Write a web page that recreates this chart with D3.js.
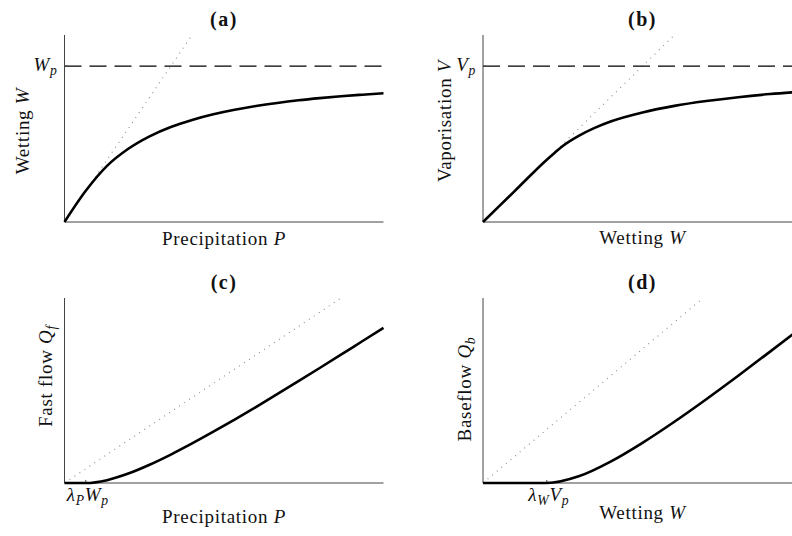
<!DOCTYPE html>
<html>
  <head>
    <meta charset="utf-8">
    <style>
      body {
        margin: 0;
        background: #fff;
      }
      text {
        font-family: "Liberation Serif", "Times New Roman", serif;
        fill: #111;
        letter-spacing: 0.7px;
      }
      .axis-line {
        stroke: #444;
        stroke-width: 1px;
        fill: none;
      }
      .curve {
        stroke: #000;
        stroke-width: 2.6px;
        fill: none;
      }
      .ref {
        stroke: #8a8a8a;
        stroke-width: 1.1px;
        stroke-dasharray: 1 5;
        fill: none;
      }
      .limit {
        stroke: #000;
        stroke-width: 1.1px;
        stroke-dasharray: 17 8;
        fill: none;
      }
    </style>
  </head>
  <body>
    <script src="https://d3js.org/d3.v7.min.js"></script>
    <script>
      // values, in units of Wp (or Vp)
      var precipA = [0, 0.2, 0.4, 0.6, 0.8, 1.0, 1.2, 1.4, 1.6, 1.8, 2.0, 2.2, 2.4, 2.6, 2.8, 3.0];
      var wettingA = [0, 0.2, 0.36, 0.47, 0.55, 0.61, 0.655, 0.691, 0.72, 0.744, 0.764, 0.781, 0.795, 0.807, 0.817, 0.826];

      var wettingB = [0, 0.2, 0.4, 0.45, 0.5, 0.6, 0.7, 0.8, 1.0, 1.2, 1.4, 1.6, 1.8, 2.0];
      var vaporB = [0, 0.2, 0.4, 0.445, 0.488, 0.553, 0.604, 0.645, 0.703, 0.745, 0.776, 0.801, 0.821, 0.836];

      var precipC = [0, 0.2, 0.4, 0.6, 0.8, 1.0, 1.2, 1.4, 1.6, 1.8, 2.0, 2.2, 2.4, 2.6, 2.8, 3.0];
      var fastC = [0, 0, 0.04, 0.133, 0.257, 0.40, 0.556, 0.721, 0.892, 1.068, 1.248, 1.431, 1.616, 1.803, 1.992, 2.18];

      var wettingD = [0, 0.4, 0.6, 0.8, 1.0, 1.2, 1.4, 1.6, 1.8, 2.0];
      var baseD = [0, 0, 0.05, 0.16, 0.30, 0.457, 0.625, 0.80, 0.98, 1.163];

      var titles = ["(a)", "(b)", "(c)", "(d)"];
      var limitLevel = 1;          // Wp / Vp
      var lambdaP = 0.2, lambdaW = 0.4;

      var width = 792, height = 536;

      var svg = d3.select("body").append("svg")
          .attr("width", width)
          .attr("height", height);

      var panels = [
        { title: titles[0], xs: precipA, ys: wettingA, left: 64.5, right: 383.5, top: 35, bottom: 222,
          xMax: 3, yMax: 1.2, limit: [{t: "W", i: 1}, {t: "p", i: 1, sub: 1}],
          xlabel: [{t: "Precipitation "}, {t: "P", i: 1}], ylabel: [{t: "Wetting "}, {t: "W", i: 1}],
          ylabelX: 29, ylabelY: 131, xlabelY: 245 },
        { title: titles[1], xs: wettingB, ys: vaporB, left: 483, right: 802, top: 35, bottom: 222,
          xMax: 2, yMax: 1.2, limit: [{t: "V", i: 1}, {t: "p", i: 1, sub: 1}],
          xlabel: [{t: "Wetting "}, {t: "W", i: 1}], ylabel: [{t: "Vaporisation "}, {t: "V", i: 1}],
          ylabelX: 451, ylabelY: 121, xlabelY: 244 },
        { title: titles[2], xs: precipC, ys: fastC, left: 64.5, right: 383.5, top: 298, bottom: 483,
          xMax: 3, yMax: 2.6, lambda: lambdaP,
          tick: [{t: "λ", i: 1}, {t: "P", i: 1, sub: 1}, {t: "W", i: 1}, {t: "p", i: 1, sub: 1}],
          xlabel: [{t: "Precipitation "}, {t: "P", i: 1}], ylabel: [{t: "Fast flow "}, {t: "Q", i: 1}, {t: "f", i: 1, sub: 1}],
          ylabelX: 52, ylabelY: 376, xlabelY: 523 },
        { title: titles[3], xs: wettingD, ys: baseD, left: 483, right: 802, top: 298, bottom: 483,
          xMax: 2, yMax: 1.38, lambda: lambdaW,
          tick: [{t: "λ", i: 1}, {t: "W", i: 1, sub: 1}, {t: "V", i: 1}, {t: "p", i: 1, sub: 1}],
          xlabel: [{t: "Wetting "}, {t: "W", i: 1}], ylabel: [{t: "Baseflow "}, {t: "Q", i: 1}, {t: "b", i: 1, sub: 1}],
          ylabelX: 471, ylabelY: 389, xlabelY: 519 }
      ];

      // write text made of roman / italic / subscript pieces
      function mathText(el, parts) {
        var shifted = false;
        parts.forEach(function(p){
          var ts = el.append("tspan").text(p.t);
          if (p.i) ts.style("font-style", "italic");
          if (p.sub && !shifted) { ts.attr("dy", 4).style("font-size", "0.72em"); shifted = true; }
          else if (p.sub) { ts.style("font-size", "0.72em"); }
          else if (shifted) { ts.attr("dy", -4); shifted = false; }
        });
        return el;
      }

      panels.forEach(function(p){
        var x = d3.scaleLinear().domain([0, p.xMax]).range([p.left, p.right]);
        var y = d3.scaleLinear().domain([0, p.yMax]).range([p.bottom, p.top]);
        var g = svg.append("g");
        var line = d3.line()
            .x(function(d){ return x(d[0]); })
            .y(function(d){ return y(d[1]); });

        // 1:1 reference line, up to the top of the axis
        var refEnd = Math.min(p.xMax, p.yMax);
        g.append("path")
            .attr("class", "ref")
            .attr("d", line([[0, 0], [refEnd, refEnd]]));

        if (p.limit) {
          g.append("path")
              .attr("class", "limit")
              .attr("d", line([[0, limitLevel], [p.xMax, limitLevel]]));
          g.append("line")
              .attr("class", "axis-line")
              .attr("x1", x(0)).attr("x2", x(0) + 3)
              .attr("y1", y(limitLevel)).attr("y2", y(limitLevel));
          mathText(g.append("text")
              .attr("x", x(0) - 7)
              .attr("y", y(limitLevel) + 5)
              .attr("text-anchor", "end")
              .style("font-size", "19px"), p.limit);
        }

        if (p.lambda) {
          g.append("line")
              .attr("class", "axis-line")
              .attr("x1", x(p.lambda)).attr("x2", x(p.lambda))
              .attr("y1", y(0)).attr("y2", y(0) - 3);
          mathText(g.append("text")
              .attr("x", x(p.lambda) + 2)
              .attr("y", y(0) + 18)
              .attr("text-anchor", "middle")
              .style("font-size", "19px"), p.tick);
        }

        // axes: left and bottom only
        g.append("path")
            .attr("class", "axis-line")
            .attr("d", "M" + x(0) + "," + y(p.yMax) + "V" + y(0) + "H" + x(p.xMax));

        var pts = p.xs.map(function(v, i){ return [v, p.ys[i]]; });
        g.append("path")
            .attr("class", "curve")
            .attr("d", line.curve(d3.curveMonotoneX)(pts));

        var cx = (p.left + p.right) / 2;
        g.append("text")
            .attr("x", cx)
            .attr("y", p.top - 9)
            .attr("text-anchor", "middle")
            .style("font-weight", "bold")
            .style("font-size", "20px")
            .style("letter-spacing", "1.5px")
            .text(p.title);

        mathText(g.append("text")
            .attr("x", cx)
            .attr("y", p.xlabelY)
            .attr("text-anchor", "middle")
            .style("font-size", "19px"), p.xlabel);

        mathText(g.append("text")
            .attr("transform", "translate(" + p.ylabelX + "," + p.ylabelY + ") rotate(-90)")
            .attr("text-anchor", "middle")
            .style("font-size", "19px"), p.ylabel);
      });
    </script>
  </body>
</html>
